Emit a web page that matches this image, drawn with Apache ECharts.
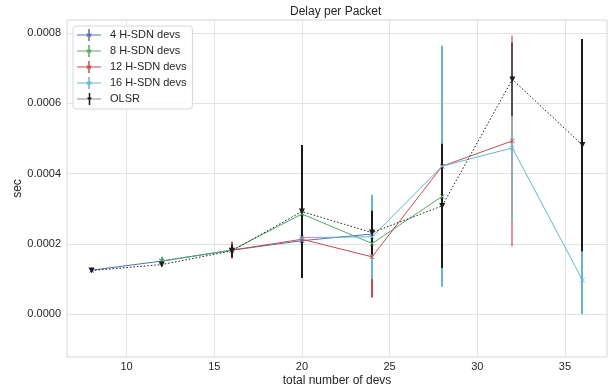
<!DOCTYPE html>
<html>
<head>
<meta charset="utf-8">
<script src="https://cdn.jsdelivr.net/npm/echarts@6/dist/echarts.min.js"></script>
<style>
  html, body { margin: 0; padding: 0; background: #fff; }
  #chart { width: 611px; height: 389px; }
</style>
</head>
<body>
<div id="chart"></div>
<script>
// total number of devs
const devs = [8, 12, 16, 20, 24, 28, 32, 36];

// mean delay per packet (sec), null where the series has no run
const hsdn4 = [0.000125, 0.000151, 0.000182, 0.000209, 0.000228, null, null, null];
const hsdn8 = [null, 0.000151, 0.000182, 0.000285, 0.000201, 0.000335, null, null];
const hsdn12 = [null, null, 0.000182, 0.000213, 0.000163, 0.000421, 0.000493, null];
const hsdn16 = [null, null, null, 0.000218, 0.00022, 0.000421, 0.000473, 0.000097];
const olsr = [0.000124, 0.000141, 0.00018, 0.000292, 0.000232, 0.000308, 0.000668, 0.000481];

// error bar half widths
const hsdn4Err = [0.000003, 0.000004, 0.000004, 0.000005, 0.000005, null, null, null];
const hsdn8Err = [null, 0.000012, 0.000006, 0.000006, 0.00001, 0.00001, null, null];
const hsdn12Err = [null, null, 0.000024, 0.000006, 0.000116, 0.00001, 0.0003, null];
const hsdn16Err = [null, null, null, 0.000012, 0.00012, 0.000343, 0.000206, 0.000097];
const olsrErr = [0.000003, 0.000005, 0.000018, 0.000189, 0.000062, 0.000177, 0.000105, 0.000302];

const xTicks = [10, 15, 20, 25, 30, 35];
const yTicks = [0, 0.0002, 0.0004, 0.0006, 0.0008];

const FONT = "Liberation Sans";
const TXT = "#262626";
const GRIDC = "#e3e3e3";
const FADED_X = 32;

const X_MARK = "path://M0 1L1 0L5 4L9 0L10 1L6 5L10 9L9 10L5 6L1 10L0 9L4 5Z";

function legendIcon(dotted, tri) {
  let p = "path://";
  if (dotted) {
    for (let x = 0; x < 24; x += 2) p += `M${x} 5.5H${x + 1}V6.5H${x}Z`;
  } else {
    p += "M0 5.5H24V6.5H0Z";
  }
  p += "M11.25 0H12.75V12H11.25Z";
  if (tri) p += "M9.5 4.5H14.5L12 8Z";
  else p += "M10 4L11.5 5.5L12 5L12.5 5.5L14 4L14.6 4.6L13.1 6L14.6 7.4L14 8L12 6.6L10 8L9.4 7.4L10.9 6L9.4 4.6Z";
  return p;
}

const groups = [
  { name: "4 H-SDN devs", vals: hsdn4, errs: hsdn4Err, color: "#4c72b0" },
  { name: "8 H-SDN devs", vals: hsdn8, errs: hsdn8Err, color: "#55a868" },
  { name: "12 H-SDN devs", vals: hsdn12, errs: hsdn12Err, color: "#c44e52" },
  { name: "16 H-SDN devs", vals: hsdn16, errs: hsdn16Err, color: "#64b5cd" },
  { name: "OLSR", vals: olsr, errs: olsrErr, color: "#1a1a1a", olsr: true },
];

const series = [];
groups.forEach((g) => {
  const pts = [];
  const bars = [];
  devs.forEach((d, i) => {
    if (g.vals[i] == null) return;
    pts.push([d, g.vals[i]]);
    bars.push([d, g.vals[i] - g.errs[i], g.vals[i] + g.errs[i]]);
  });
  series.push({
    name: g.name + " err",
    type: "custom",
    silent: true,
    data: bars,
    encode: { x: 0, y: [1, 2] },
    renderItem: (params, api) => {
      const x = api.value(0);
      const lo = api.coord([x, api.value(1)]);
      const hi = api.coord([x, api.value(2)]);
      const px = Math.round(lo[0]);
      return {
        type: "line",
        shape: { x1: px, y1: lo[1], x2: px, y2: hi[1] },
        style: { stroke: g.color, lineWidth: 2, opacity: x === FADED_X ? 0.6 : 1 },
      };
    },
  });
  series.push({
    name: g.name,
    type: "line",
    data: pts,
    color: g.color,
    symbol: g.olsr ? "triangle" : X_MARK,
    symbolRotate: g.olsr ? 180 : 0,
    symbolSize: g.olsr ? 6 : 5,
    showAllSymbol: true,
    lineStyle: { width: 1, color: g.color, type: g.olsr ? [1.5, 2] : "solid" },
    itemStyle: { color: g.color },
  });
});

const chart = echarts.init(document.getElementById("chart"), null, { renderer: "canvas" });
chart.setOption({
  animation: false,
  backgroundColor: "#fff",
  title: {
    text: "Delay per Packet",
    left: 290,
    top: 6,
    padding: 0,
    textStyle: { fontFamily: FONT, fontSize: 12, fontWeight: "normal", color: TXT },
  },
  legend: {
    left: 73,
    top: 26,
    orient: "vertical",
    itemWidth: 24,
    itemHeight: 12,
    itemGap: 4,
    padding: [3, 6, 4, 4],
    backgroundColor: "rgba(255,255,255,0.85)",
    borderColor: "#d8d8d8",
    borderWidth: 1,
    borderRadius: 3,
    textStyle: { fontFamily: FONT, fontSize: 11, color: TXT, padding: [0, 0, 0, 4] },
    data: groups.map((g) => ({ name: g.name, icon: legendIcon(!!g.olsr, !!g.olsr) })),
  },
  grid: {
    left: 67,
    right: 4,
    top: 20,
    bottom: 32,
    show: true,
    borderColor: "#d6d6d6",
    borderWidth: 1,
    containLabel: false,
    outerBoundsMode: "none",
  },
  xAxis: {
    type: "value",
    min: 6.6,
    max: 37.4,
    name: "total number of devs",
    nameLocation: "middle",
    nameGap: 18,
    nameMoveOverlap: false,
    nameTextStyle: { fontFamily: FONT, fontSize: 12, color: TXT },
    axisLine: { show: false },
    axisTick: { show: false, customValues: xTicks },
    axisLabel: { customValues: xTicks, fontFamily: FONT, fontSize: 11, color: TXT, margin: 4 },
    splitLine: { show: true, lineStyle: { color: GRIDC, width: 1 } },
  },
  yAxis: {
    type: "value",
    min: -0.000122,
    max: 0.000837,
    name: "sec",
    nameLocation: "middle",
    nameGap: 43,
    nameMoveOverlap: false,
    nameTextStyle: { fontFamily: FONT, fontSize: 12, color: TXT },
    axisLine: { show: false },
    axisTick: { show: false, customValues: yTicks },
    axisLabel: {
      customValues: yTicks,
      fontFamily: FONT,
      fontSize: 11,
      color: TXT,
      margin: 6,
      formatter: (v) => v.toFixed(4),
    },
    splitLine: { show: true, lineStyle: { color: GRIDC, width: 1 } },
  },
  series: series,
});
</script>
</body>
</html>
